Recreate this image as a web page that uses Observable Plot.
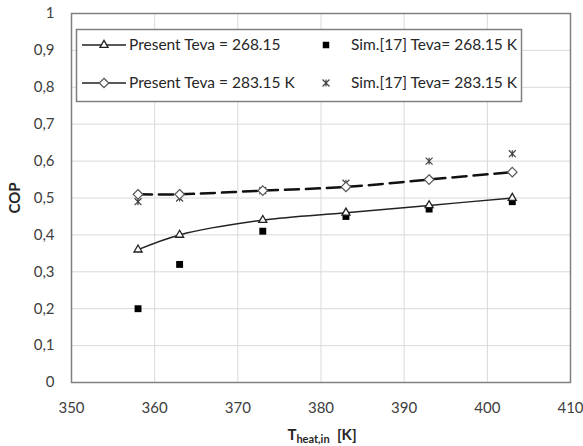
<!DOCTYPE html>
<html><head><meta charset="utf-8">
<script src="https://cdn.jsdelivr.net/npm/d3@7"></script>
<script src="https://cdn.jsdelivr.net/npm/@observablehq/plot@0.6"></script>
<style>body{margin:0;background:#fff}</style>
</head><body><div id="chart"></div>
<script>
const temps = [358, 363, 373, 383, 393, 403];
const present268 = [0.36, 0.40, 0.44, 0.46, 0.48, 0.50];
const sim268 = [0.20, 0.32, 0.41, 0.45, 0.47, 0.49];
const present283 = [0.51, 0.51, 0.52, 0.53, 0.55, 0.57];
const sim283 = [0.49, 0.50, 0.52, 0.54, 0.60, 0.62];
const xTicks = [350, 360, 370, 380, 390, 400, 410];
const yTicks = [0, 0.1, 0.2, 0.3, 0.4, 0.5, 0.6, 0.7, 0.8, 0.9, 1];
const seriesNames = ["Present Teva = 268.15", "Sim.[17] Teva= 268.15 K", "Present Teva = 283.15 K", "Sim.[17] Teva= 283.15 K"];

const rows = (ys) => temps.map((t, i) => ({x: t, y: ys[i]}));
const fmt = d => String(d).replace(".", ",");

// Excel-style star marker: an X crossed by a vertical bar
const star = {
  draw(ctx, size) {
    const r = Math.sqrt(size) * 0.5;
    ctx.moveTo(-r, -r); ctx.lineTo(r, r);
    ctx.moveTo(r, -r); ctx.lineTo(-r, r);
    ctx.moveTo(0, -r); ctx.lineTo(0, r);
  }
};

const svg = Plot.plot({
  width: 583, height: 446,
  marginLeft: 71, marginRight: 13, marginTop: 13, marginBottom: 64,
  style: {fontFamily: "Lato, sans-serif", fontSize: "14px", color: "#404040", background: "#fff"},
  x: {domain: [350, 410]},
  y: {domain: [0, 1]},
  marks: [
    Plot.gridX(xTicks, {stroke: "#d9d9d9", strokeOpacity: 1}),
    Plot.gridY(yTicks, {stroke: "#d9d9d9", strokeOpacity: 1}),
    Plot.axisX({ticks: xTicks, tickSize: 0, tickPadding: 20, label: null, fontSize: 15}),
    Plot.axisY({ticks: yTicks, tickSize: 0, tickPadding: 17, tickFormat: fmt, label: null, fontSize: 15}),
    Plot.line(rows(present268), {x: "x", y: "y", curve: "catmull-rom", stroke: "#222", strokeWidth: 1.5}),
    Plot.line(rows(present283), {x: "x", y: "y", curve: "catmull-rom", stroke: "#111", strokeWidth: 2.5, strokeDasharray: "14,7"}),
    Plot.dot(rows(sim268), {x: "x", y: "y", symbol: "square", fill: "#000", r: 3.9}),
    Plot.dot(rows(sim283), {x: "x", y: "y", symbol: star, fill: "none", stroke: "#444", strokeWidth: 1.2, r: 3.9}),
    Plot.dot(rows(present268), {x: "x", y: "y", symbol: "triangle", fill: "#fff", stroke: "#222", strokeWidth: 1.3, r: 3}),
    Plot.dot(rows(present283), {x: "x", y: "y", symbol: "diamond2", fill: "#fff", stroke: "#555", strokeWidth: 1.2, r: 4.3}),
    Plot.frame({stroke: "#808080", strokeWidth: 1.5})
  ]
});

const s = d3.select(svg);
// Legend
const lg = s.append("g").attr("font-family", "Lato, sans-serif").attr("font-size", 15.5).attr("fill", "#262626").attr("text-anchor", "start");
lg.append("rect").attr("x", 76.5).attr("y", 29.5).attr("width", 445).attr("height", 72)
  .attr("fill", "#fff").attr("stroke", "#808080").attr("stroke-width", 1.5);
const clip = s.append("clipPath").attr("id", "lgclip");
clip.append("rect").attr("x", 76.5).attr("y", 29.5).attr("width", 444).attr("height", 72);
const items = lg.append("g").attr("clip-path", "url(#lgclip)");
const rowY = [45, 83];
// row 1
items.append("line").attr("x1", 82).attr("x2", 126).attr("y1", rowY[0]).attr("y2", rowY[0]).attr("stroke", "#222").attr("stroke-width", 1.5);
items.append("path").attr("d", d3.symbol(d3.symbolTriangle, 28)()).attr("transform", `translate(104,${rowY[0]})`).attr("fill", "#fff").attr("stroke", "#222").attr("stroke-width", 1.3);
items.append("text").attr("x", 129).attr("y", rowY[0]).attr("dy", "0.35em").text(seriesNames[0]);
items.append("path").attr("d", d3.symbol(d3.symbolSquare, 42)()).attr("transform", `translate(326,${rowY[0]})`).attr("fill", "#000");
items.append("text").attr("x", 351).attr("y", rowY[0]).attr("dy", "0.35em").text(seriesNames[1]);
// row 2
items.append("line").attr("x1", 82).attr("x2", 126).attr("y1", rowY[1]).attr("y2", rowY[1]).attr("stroke", "#222").attr("stroke-width", 1.5);
items.append("path").attr("d", d3.symbol(d3.symbolDiamond2, 58)()).attr("transform", `translate(104,${rowY[1]})`).attr("fill", "#fff").attr("stroke", "#555").attr("stroke-width", 1.2);
items.append("text").attr("x", 129).attr("y", rowY[1]).attr("dy", "0.35em").text(seriesNames[2]);
items.append("path").attr("d", d3.symbol(star, 48)()).attr("transform", `translate(326,${rowY[1]})`).attr("fill", "none").attr("stroke", "#444").attr("stroke-width", 1.2);
items.append("text").attr("x", 351).attr("y", rowY[1]).attr("dy", "0.35em").text(seriesNames[3]);

// axis labels
const xl = s.append("text").attr("x", 322).attr("y", 440).attr("text-anchor", "middle")
  .attr("font-family", "Lato, sans-serif").attr("font-weight", "bold").attr("fill", "#262626").attr("font-size", 15);
xl.append("tspan").text("T");
xl.append("tspan").attr("font-size", 11).attr("dy", 3).text("heat,in");
xl.append("tspan").attr("dy", -3).text("  [K]");
s.append("text").attr("transform", "translate(20,198) rotate(-90)").attr("text-anchor", "middle")
  .attr("font-family", "Lato, sans-serif").attr("font-weight", "bold").attr("fill", "#262626").attr("font-size", 15).text("COP");

document.getElementById("chart").appendChild(svg);
</script>
</body></html>
